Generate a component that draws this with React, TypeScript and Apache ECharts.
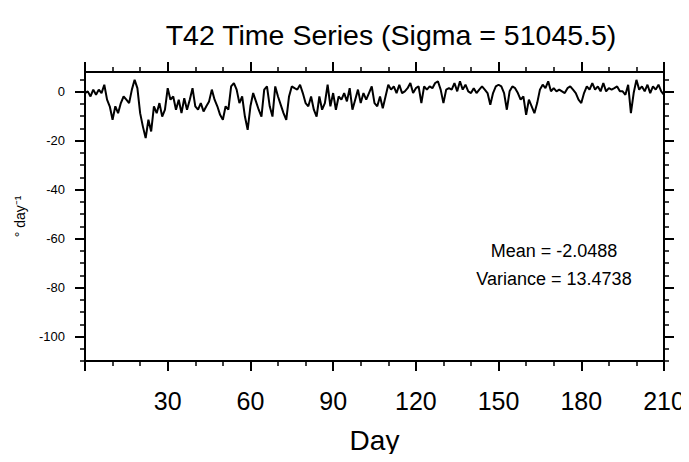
import React, { useEffect, useRef } from "react";
import * as echarts from "echarts";

const titleText = "T42 Time Series (Sigma = 51045.5)";
const xName = "Day";
const yName = "° day⁻¹";
const statLines = ["Mean = -2.0488", "Variance = 13.4738"];

// x axis
const xMin = 0;
const xMax = 210;
const xInterval = 30;
// y axis
const yMin = -110;
const yMax = 8;
const yMajorTicks = [-100, -80, -60, -40, -20, 0];
const yMinorTicks = [-110, -105, -95, -90, -85, -75, -70, -65, -55, -50, -45, -35, -30, -25, -15, -10, -5, 5];

// daily values, day 0..210
const dailyValues = [
  -0.6, 0.1, -2, 0.8, -1.3, 0.8, -0.6, 2.8, -3.3, -6.1,
  -11.5, -6, -8.8, -4.7, -2, -3.3, -4.7, 0.8, 4.8, 1.4,
  -8.8, -14.3, -19, -11.5, -16.3, -6, -8.8, -4.7, -10.2, -7.4,
  1.4, -3.3, -2, -7.4, -3.3, -8.8, -2.7, -7.4, -3.3, 1.4,
  -6, -7.4, -4.7, -8.1, -6, -4, 0.8, -3.3, -6, -9.5,
  -11.5, -6, -7.4, 2.1, 3.5, 0.8, -4.7, -2, -10.2, -15.6,
  -6, -0.6, -4, -7.4, -10.2, 0.8, 2.1, -6, -10.2, 2.1,
  -2, -5.4, -8.8, -11.5, -2, 2.1, 1.4, 0.8, 2.8, -0.6,
  -4.7, -6, -2, -7.4, -10.2, -2, -7.4, -4.7, 2.8, -6,
  -0.6, -7.4, -2, -3.3, -0.6, -4, 1.4, -7.4, -3.3, 0.8,
  -4.7, -0.6, -3.3, -0.6, 2.1, -4.7, -6, -2, -6.8, -2,
  2.8, 0.8, 2.1, -0.6, 2.8, -0.6, 0.1, 1.4, 3.5, -0.6,
  1.4, 2.1, -4.7, 2.1, 0.8, 2.1, 1.4, 3.5, 4.2, 0.8,
  -4.7, 0.8, 1.4, 0.8, 3.5, 0.1, 4.2, 0.8, 2.8, 0.1,
  -0.6, 1.4, -0.6, 0.8, 2.1, 0.8, -0.6, -5.4, -0.6, 2.1,
  2.8, 2.1, -0.6, -7.4, 0.1, 2.1, 1.4, -0.6, -3.3, -2,
  -9.5, -3.3, -6, -8.8, -4.7, 0.8, 2.8, 1.4, 4.2, 0.1,
  1.4, 0.1, 0.8, 0.1, -0.6, 1.4, 2.1, 0.8, -0.6, -3.3,
  -4.7, -0.6, 2.1, 0.8, 3.5, 0.8, 2.1, 0.1, 3.5, 0.1,
  1.4, 0.8, 1.4, 2.1, 0.1, 0.1, -1.3, 2.8, -8.8, -0.6,
  4.8, 0.8, 2.1, 0.1, 2.8, -0.6, 2.1, 0.8, 2.8, 0.1,
  -1.3,
];

const FONT = "Liberation Sans, Arial, Helvetica, sans-serif";
const BLACK = "#000";

export default function App() {
  const ref = useRef<HTMLDivElement>(null);

  useEffect(() => {
    if (!ref.current) return;
    const chart = echarts.init(ref.current, undefined, { renderer: "svg" });
    const seriesData = dailyValues.map((v, i) => [i, v]);

    const gridLeft = 85;
    const gridRight = 25;
    const gridTop = 72;
    const gridBottom = 101;

    const xBase = (position: "bottom" | "top", labels: boolean) => ({
      type: "value",
      position,
      min: xMin,
      max: xMax,
      interval: xInterval,
      axisLine: { show: true, onZero: false, lineStyle: { color: BLACK, width: 2 } },
      axisTick: { show: true, inside: false, length: 10, lineStyle: { color: BLACK, width: 2 } },
      minorTick: { show: true, splitNumber: 3, length: 5, lineStyle: { color: BLACK, width: 1.5 } },
      splitLine: { show: false },
      minorSplitLine: { show: false },
      axisLabel: {
        show: labels,
        fontSize: 25,
        color: BLACK,
        fontFamily: FONT,
        margin: 27,
        formatter: (v: number) => (v === 0 ? "" : String(v)),
      },
    });

    const yBase = (
      position: "left" | "right",
      ticks: number[],
      len: number,
      width: number,
      line: boolean,
      labels: boolean
    ) => ({
      type: "value",
      position,
      min: yMin,
      max: yMax,
      axisLine: { show: line, onZero: false, lineStyle: { color: BLACK, width: 2 } },
      axisTick: { show: true, inside: false, length: len, customValues: ticks, lineStyle: { color: BLACK, width } },
      splitLine: { show: false },
      axisLabel: {
        show: labels,
        customValues: labels ? ticks : undefined,
        fontSize: 13,
        color: BLACK,
        fontFamily: FONT,
        margin: 20,
      },
    });

    const yMain: any = yBase("left", yMajorTicks, 10, 2, true, true);
    yMain.name = yName;
    yMain.nameLocation = "middle";
    yMain.nameRotate = 90;
    yMain.nameGap = 58;
    yMain.nameTextStyle = { fontSize: 14, color: BLACK, fontFamily: FONT };

    const xMain: any = xBase("bottom", true);
    xMain.name = xName;
    xMain.nameLocation = "middle";
    xMain.nameGap = 65;
    xMain.nameTextStyle = { fontSize: 28, color: BLACK, fontFamily: FONT };

    const option: any = {
      animation: false,
      backgroundColor: "#fff",
      textStyle: { fontFamily: FONT },
      title: {
        text: titleText,
        left: 386,
        top: 15,
        textAlign: "center",
        textStyle: { fontSize: 28.5, fontWeight: "normal", color: BLACK, fontFamily: FONT },
      },
      grid: { left: gridLeft, right: gridRight, top: gridTop, bottom: gridBottom, containLabel: false },
      xAxis: [xMain, xBase("top", false)],
      yAxis: [
        yMain,
        yBase("right", yMajorTicks, 10, 2, true, false),
        yBase("left", yMinorTicks, 5, 1.5, false, false),
        yBase("right", yMinorTicks, 5, 1.5, false, false),
      ],
      series: [
        {
          type: "line",
          xAxisIndex: 0,
          yAxisIndex: 0,
          data: seriesData,
          showSymbol: false,
          symbol: "none",
          lineStyle: { color: BLACK, width: 2 },
        },
      ],
      graphic: statLines.map((t, i) => ({
        type: "text",
        x: 554,
        y: 251 + i * 28,
        style: {
          text: t,
          fontSize: 18,
          fontFamily: FONT,
          fill: BLACK,
          textAlign: "center",
          textVerticalAlign: "middle",
        },
      })),
    };

    chart.setOption(option);
    return () => chart.dispose();
  }, []);

  return <div ref={ref} style={{ width: 689, height: 462, margin: -8 }} />;
}
